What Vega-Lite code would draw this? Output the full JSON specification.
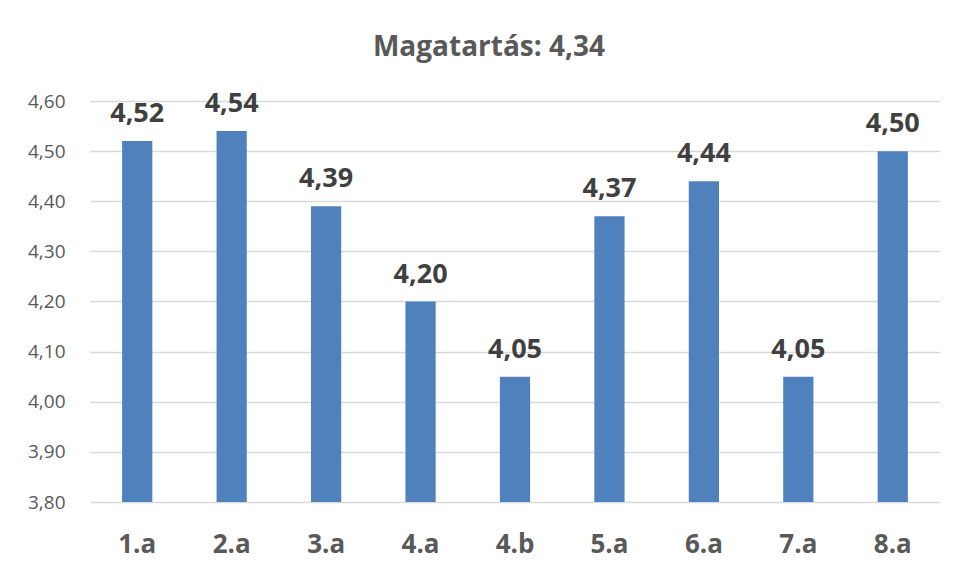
{
  "$schema": "https://vega.github.io/schema/vega-lite/v6.json",
  "autosize": "none",
  "width": 850,
  "height": 401,
  "padding": {"left": 90, "top": 101, "right": 17, "bottom": 71},
  "background": "white",
  "config": {
    "locale": {"number": {"decimal": ",", "thousands": " ", "grouping": [3], "currency": ["", " Ft"]}},
    "view": {"stroke": null},
    "font": "Open Sans"
  },
  "title": {
    "text": "Magatartás: 4,34",
    "frame": "group",
    "anchor": "middle",
    "offset": 28,
    "dx": -26,
    "fontSize": 28,
    "fontWeight": "bold",
    "color": "#595959",
    "font": "Open Sans"
  },
  "data": {
    "values": [
      {"osztaly": "1.a", "ertek": 4.52},
      {"osztaly": "2.a", "ertek": 4.54},
      {"osztaly": "3.a", "ertek": 4.39},
      {"osztaly": "4.a", "ertek": 4.20},
      {"osztaly": "4.b", "ertek": 4.05},
      {"osztaly": "5.a", "ertek": 4.37},
      {"osztaly": "6.a", "ertek": 4.44},
      {"osztaly": "7.a", "ertek": 4.05},
      {"osztaly": "8.a", "ertek": 4.50}
    ]
  },
  "encoding": {
    "x": {
      "field": "osztaly",
      "type": "nominal",
      "sort": null,
      "scale": {"paddingInner": 0.68, "paddingOuter": 0.34},
      "axis": {
        "title": null,
        "labelAngle": 0,
        "ticks": false,
        "domain": false,
        "labelPadding": 29,
        "labelFontSize": 26,
        "labelFontWeight": "bold",
        "labelColor": "#595959",
        "labelFont": "Open Sans"
      }
    },
    "y": {
      "field": "ertek",
      "type": "quantitative",
      "scale": {"domain": [3.8, 4.6], "nice": false, "zero": false},
      "axis": {
        "title": null,
        "values": [3.8, 3.9, 4.0, 4.1, 4.2, 4.3, 4.4, 4.5, 4.6],
        "format": ".2f",
        "ticks": false,
        "domain": false,
        "labelPadding": 25,
        "labelFontSize": 19,
        "labelColor": "#595959",
        "labelFont": "Open Sans",
        "gridColor": "#d9d9d9",
        "gridWidth": 1.3
      }
    }
  },
  "layer": [
    {"mark": {"type": "bar", "color": "#4F81BD", "clip": true}},
    {
      "mark": {
        "type": "text",
        "baseline": "alphabetic",
        "dy": -19,
        "fontSize": 27,
        "fontWeight": "bold",
        "color": "#404040",
        "font": "Open Sans"
      },
      "encoding": {"text": {"field": "ertek", "type": "quantitative", "format": ".2f"}}
    }
  ]
}
